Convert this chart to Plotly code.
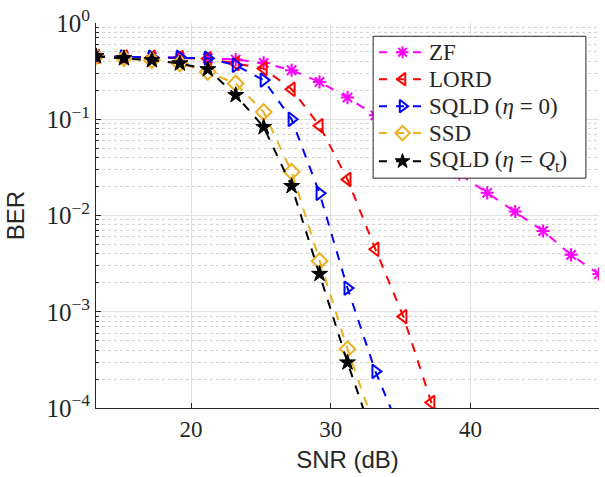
import plotly.graph_objects as go

# SNR grid (dB)
snr = [13.2, 15.2, 17.2, 19.2, 21.2, 23.2, 25.2, 27.2, 29.2, 31.2,
       33.2, 35.2, 37.2, 39.2, 41.2, 43.2, 45.2, 47.2, 49.2]

# BER per detector
ber_zf = [0.45, 0.445, 0.44, 0.435, 0.43, 0.417, 0.385, 0.323, 0.244, 0.168,
          0.11, 0.071, 0.045, 0.027, 0.0172, 0.011, 0.0069, 0.0039, 0.00246]
ber_lord = [0.45, 0.445, 0.44, 0.435, 0.425, 0.38, 0.336, 0.205, 0.0855, 0.0237,
            0.00446, 8.9e-4, 1.14e-4, 1.0e-5]
ber_sqld0 = [0.45, 0.445, 0.44, 0.44, 0.43, 0.364, 0.255, 0.1, 0.017, 1.76e-3,
             2.4e-4, 4.8e-5]
ber_ssd = [0.45, 0.43, 0.41, 0.38, 0.31, 0.235, 0.119, 0.0285, 0.00337, 4.09e-4,
           6.0e-5]
ber_sqldq = [0.45, 0.43, 0.41, 0.38, 0.33, 0.178, 0.083, 0.0202, 0.00247, 2.97e-4,
             4.2e-5]

# axis ticks
y_tickvals = [1e-4, 1e-3, 1e-2, 1e-1, 1]
y_ticktext = ["10<sup>−4</sup>", "10<sup>−3</sup>", "10<sup>−2</sup>",
              "10<sup>−1</sup>", "10<sup>0</sup>"]
x_tickvals = [20, 30, 40]

# name, data, colour, marker symbol, marker size, marker outline width
series = [
    ("ZF", ber_zf, "#FF00FF", "asterisk-open", 11, 2),
    ("LORD", ber_lord, "#FF0000", "triangle-left-open", 12, 2),
    ("SQLD (<i>η</i> = 0)", ber_sqld0, "#0000FF", "triangle-right-open", 12, 2),
    ("SSD", ber_ssd, "#EDB120", "diamond-open", 12, 2),
    ("SQLD (<i>η</i> = <i>Q</i><sub>t</sub>)", ber_sqldq, "#000000", "star", 12, 1),
]

serif = "Liberation Serif"
sans = "Liberation Sans"
ink = "#262626"

fig = go.Figure()
for name, ber, color, symbol, size, lw in series:
    fig.add_trace(go.Scatter(
        x=snr[:len(ber)], y=ber, name=name, mode="lines+markers",
        line=dict(color=color, width=2, dash="dash"),
        marker=dict(symbol=symbol, size=size, color=color,
                    line=dict(color=color, width=lw)),
        showlegend=False,
    ))

# Legend drawn on an overlay axis spanning the plot area in [0, 1] units
box_x0, box_x1, box_y0, box_y1 = 0.551, 0.974, 0.597, 0.9655
row_y = [0.924, 0.854, 0.784, 0.714, 0.641]
line_x0, line_x1, mark_x, text_x = 0.5626, 0.6561, 0.6094, 0.658

fig.add_trace(go.Scatter(
    x=[box_x0, box_x1, box_x1, box_x0, box_x0],
    y=[box_y0, box_y0, box_y1, box_y1, box_y0],
    xaxis="x2", yaxis="y2", mode="lines", fill="toself",
    fillcolor="white", line=dict(color=ink, width=1),
    showlegend=False, hoverinfo="skip",
))
for (name, ber, color, symbol, size, lw), yy in zip(series, row_y):
    fig.add_trace(go.Scatter(
        x=[line_x0, line_x1], y=[yy, yy], xaxis="x2", yaxis="y2",
        mode="lines", line=dict(color=color, width=2, dash="8px,9px"),
        showlegend=False, hoverinfo="skip",
    ))
    fig.add_trace(go.Scatter(
        x=[mark_x], y=[yy], xaxis="x2", yaxis="y2", mode="markers",
        marker=dict(symbol=symbol, size=size - 1, color=color,
                    line=dict(color=color, width=lw)),
        showlegend=False, hoverinfo="skip",
    ))
    fig.add_annotation(
        x=text_x, y=yy, xref="x2", yref="y2", text=name, showarrow=False,
        xanchor="left", yanchor="middle",
        font=dict(family=serif, size=23, color=ink),
    )

fig.update_layout(
    width=605, height=477,
    margin=dict(l=96, r=6, t=23, b=69),
    paper_bgcolor="white", plot_bgcolor="white",
    showlegend=False,
    xaxis=dict(
        range=[13.2, 49.2], tickvals=x_tickvals,
        ticks="inside", ticklen=5, tickcolor=ink,
        showline=True, linecolor=ink, linewidth=1,
        showgrid=True, gridcolor="#DFDFDF", gridwidth=1, zeroline=False,
        tickfont=dict(family=serif, size=23, color=ink),
        title=dict(text="SNR (dB)", font=dict(family=sans, size=24, color=ink),
                   standoff=10),
    ),
    yaxis=dict(
        type="log", range=[-4, 0],
        tickvals=y_tickvals, ticktext=y_ticktext,
        ticks="inside", ticklen=5, tickcolor=ink,
        showline=True, linecolor=ink, linewidth=1,
        showgrid=True, gridcolor="#DFDFDF", gridwidth=1, zeroline=False,
        tickfont=dict(family=serif, size=25, color=ink),
        minor=dict(dtick="D1", ticks="inside", ticklen=3, tickcolor=ink,
                   showgrid=True, gridcolor="#D2D2D2", griddash="dot", gridwidth=1),
        title=dict(text="BER", font=dict(family=sans, size=24, color=ink),
                   standoff=14),
    ),
    xaxis2=dict(domain=[0, 1], range=[0, 1], overlaying="x", visible=False,
                fixedrange=True),
    yaxis2=dict(domain=[0, 1], range=[0, 1], overlaying="y", visible=False,
                fixedrange=True),
)

fig.write_html("out.html")
